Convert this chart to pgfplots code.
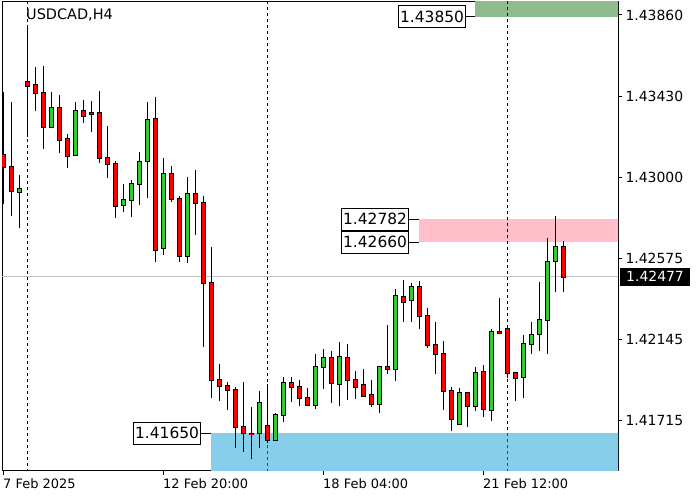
\documentclass[border=0pt]{standalone}
\usepackage{fontspec}
\setmainfont{DejaVu Sans}
\usepackage{pgfplots}
\pgfplotsset{compat=1.18}
\usepackage{pgfplotstable}

\definecolor{bullc}{RGB}{50,205,50}
\definecolor{bearc}{RGB}{255,0,0}
\definecolor{zoneblue}{RGB}{135,206,235}
\definecolor{zonepink}{RGB}{255,192,203}
\definecolor{zonegreen}{RGB}{143,188,143}
\definecolor{pricegrey}{RGB}{192,192,192}
\definecolor{sepbrown}{RGB}{128,48,32}

% bullish candles (close > open)
\pgfplotstableread{
i o h l c
2 1.42926 1.43015 1.42736 1.42939
6 1.43268 1.43453 1.43263 1.43367
9 1.43122 1.43400 1.43120 1.43353
15 1.42858 1.42966 1.42821 1.42881
16 1.42881 1.42988 1.42794 1.42966
17 1.42966 1.43136 1.42856 1.43082
18 1.43087 1.43399 1.42895 1.43304
20 1.42627 1.43103 1.42594 1.43018
23 1.42588 1.43003 1.42548 1.42916
32 1.41650 1.41873 1.41574 1.41808
34 1.41613 1.41756 1.41612 1.41745
35 1.41745 1.41949 1.41711 1.41916
39 1.41798 1.42069 1.41777 1.41999
40 1.41999 1.42094 1.41884 1.42046
42 1.41909 1.42131 1.41794 1.42052
47 1.41803 1.42004 1.41759 1.41999
49 1.41988 1.42412 1.41925 1.42374
51 1.42353 1.42444 1.42240 1.42421
57 1.41698 1.41888 1.41692 1.41861
59 1.41793 1.41999 1.41769 1.41967
61 1.41775 1.42199 1.41717 1.42184
65 1.41946 1.42169 1.41838 1.42120
66 1.42120 1.42236 1.42067 1.42168
67 1.42173 1.42449 1.42086 1.42247
68 1.42247 1.42680 1.42071 1.42553
69 1.42559 1.42798 1.42398 1.42633
}\bull

% bearish candles (close <= open)
\pgfplotstableread{
i o h l c
0 1.43120 1.43455 1.42860 1.43055
1 1.43057 1.43402 1.42798 1.42932
3 1.43506 1.43807 1.43217 1.43486
4 1.43489 1.43584 1.43354 1.43446
5 1.43446 1.43591 1.43154 1.43270
7 1.43367 1.43436 1.43132 1.43198
8 1.43205 1.43231 1.43053 1.43113
10 1.43353 1.43411 1.43291 1.43328
11 1.43340 1.43407 1.43243 1.43338
12 1.43340 1.43457 1.43080 1.43107
13 1.43107 1.43274 1.43000 1.43071
14 1.43071 1.43089 1.42789 1.42852
19 1.43309 1.43427 1.42555 1.42620
21 1.43018 1.43061 1.42874 1.42886
22 1.42886 1.42905 1.42555 1.42588
24 1.42916 1.43041 1.42698 1.42865
25 1.42865 1.42904 1.42107 1.42442
26 1.42442 1.42636 1.41835 1.41930
27 1.41930 1.42016 1.41822 1.41900
28 1.41902 1.41919 1.41773 1.41877
29 1.41877 1.41893 1.41571 1.41682
30 1.41685 1.41923 1.41553 1.41650
31 1.41647 1.41787 1.41513 1.41645
33 1.41687 1.41910 1.41597 1.41613
36 1.41916 1.41947 1.41817 1.41893
37 1.41893 1.41930 1.41796 1.41835
38 1.41835 1.41888 1.41796 1.41798
41 1.42046 1.42085 1.41810 1.41914
43 1.42046 1.42122 1.41828 1.41930
44 1.41930 1.41979 1.41833 1.41896
45 1.41904 1.41990 1.41847 1.41849
46 1.41851 1.41932 1.41790 1.41803
48 1.41999 1.42222 1.41962 1.41988
50 1.42368 1.42460 1.42240 1.42345
52 1.42421 1.42455 1.42203 1.42268
53 1.42268 1.42312 1.42102 1.42115
54 1.42115 1.42238 1.41965 1.42067
55 1.42070 1.42138 1.41771 1.41872
56 1.41872 1.41896 1.41664 1.41727
58 1.41861 1.41868 1.41685 1.41793
60 1.41972 1.42009 1.41738 1.41777
62 1.42184 1.42363 1.42173 1.42180
63 1.42199 1.42217 1.41940 1.41967
64 1.41967 1.41974 1.41822 1.41940
70 1.42633 1.42664 1.42398 1.42477
}\bear

\begin{document}
\begin{tikzpicture}[
  lbl/.style={draw=black, line width=1bp, fill=white, inner xsep=1.5bp, inner ysep=0pt,
    minimum height=22bp, font=\fontsize{15.5}{18}\selectfont, anchor=east}]
\useasboundingbox (0,0) rectangle (700bp,500bp);
\begin{axis}[
  at={(2bp,29bp)}, anchor=south west,
  scale only axis, width=616bp, height=469bp,
  xmin=-0.125, xmax=76.875, ymin=1.414508, ymax=1.439286,
  axis line style={line width=1bp, black},
  tick style={line width=1bp, black},
  major tick length=4bp,
  tick align=outside,
  xtick pos=bottom, ytick pos=right, yticklabel pos=right,
  xtick={0,20,40,60},
  xticklabels={7 Feb 2025, 12 Feb 20:00, 18 Feb 04:00, 21 Feb 12:00},
  ytick={1.43860,1.43430,1.43000,1.42575,1.42145,1.41715},
  yticklabels={1.43860,1.43430,1.43000,1.42575,1.42145,1.41715},
  scaled y ticks=false,
  xticklabel style={anchor=north west, inner xsep=0pt, font=\fontsize{13}{15}\selectfont},
  yticklabel style={anchor=west, font=\fontsize{14}{16}\selectfont},
  candle/.style={draw=none, mark=none, error bars/.cd, y explicit, error mark=none},
]
% zones
\addplot[draw=none, fill=zonegreen] coordinates {(59,1.43850) (80,1.43850) (80,1.445) (59,1.445)} --cycle;
\addplot[draw=none, fill=zonepink] coordinates {(52,1.42660) (80,1.42660) (80,1.42782) (52,1.42782)} --cycle;
\addplot[draw=none, fill=zoneblue] coordinates {(26,1.40) (80,1.40) (80,1.41650) (26,1.41650)} --cycle;
% period separators
\addplot[black, line width=1bp, dash pattern=on 3bp off 3bp] coordinates {(3,1.41) (3,1.445)};
\addplot[black, line width=1bp, dash pattern=on 3bp off 3bp] coordinates {(33,1.41) (33,1.445)};
\addplot[black, line width=1bp, dash pattern=on 3bp off 3bp] coordinates {(63,1.41) (63,1.445)};
\addplot[sepbrown, line width=1bp, dash pattern=on 3bp off 3bp] coordinates {(33,1.41) (33,1.41650)};
\addplot[sepbrown, line width=1bp, dash pattern=on 3bp off 3bp] coordinates {(63,1.41) (63,1.41650)};
% current price line
\addplot[pricegrey, line width=1bp] coordinates {(-1,1.42477) (80,1.42477)};
% wicks
\addplot[candle, y dir=plus, error bar style={line width=1bp, draw=black, solid}]
  table[x=i, y=l, y error plus expr=\thisrow{h}-\thisrow{l}] {\bull};
\addplot[candle, y dir=plus, error bar style={line width=1bp, draw=black, solid}]
  table[x=i, y=l, y error plus expr=\thisrow{h}-\thisrow{l}] {\bear};
% bodies: black outline
\addplot[candle, y dir=both, error bar style={line width=5bp, draw=black, solid}]
  table[x=i, y=o, y error plus expr=\thisrow{c}-\thisrow{o}+0.0000528, y error minus expr=0.0000528] {\bull};
\addplot[candle, y dir=both, error bar style={line width=5bp, draw=black, solid}]
  table[x=i, y=c, y error plus expr=\thisrow{o}-\thisrow{c}+0.0000528, y error minus expr=0.0000528] {\bear};
% bodies: fill
\addplot[candle, y dir=plus, error bar style={line width=3bp, draw=bullc, solid}]
  table[x=i, y=o, y error plus expr=\thisrow{c}-\thisrow{o}] {\bull};
\addplot[candle, y dir=plus, error bar style={line width=3bp, draw=bearc, solid}]
  table[x=i, y=c, y error plus expr=\thisrow{o}-\thisrow{c}] {\bear};
% level labels
\draw[line width=1bp] (axis cs:57.875,1.43850) -- (axis cs:59,1.43850);
\draw[line width=1bp] (axis cs:50.75,1.42782) -- (axis cs:52,1.42782);
\draw[line width=1bp] (axis cs:50.75,1.42660) -- (axis cs:52,1.42660);
\draw[line width=1bp] (axis cs:24.75,1.41650) -- (axis cs:26,1.41650);
\node[lbl] at (axis cs:57.875,1.43850) {1.43850};
\node[lbl] at (axis cs:50.75,1.42782) {1.42782};
\node[lbl] at (axis cs:50.75,1.42660) {1.42660};
\node[lbl] at (axis cs:24.75,1.41650) {1.41650};
\node[anchor=north west, inner sep=0pt, font=\fontsize{14.5}{17}\selectfont] at (rel axis cs:0.039,0.985) {USDCAD,H4};
\coordinate (pl) at (axis cs:76.875,1.42477);
\end{axis}
\node[fill=black, text=white, anchor=west, inner xsep=6bp, inner ysep=0pt, minimum height=18bp,
  font=\fontsize{14}{16}\selectfont] at ([xshift=2bp]pl) {1.42477};
\end{tikzpicture}
\end{document}
